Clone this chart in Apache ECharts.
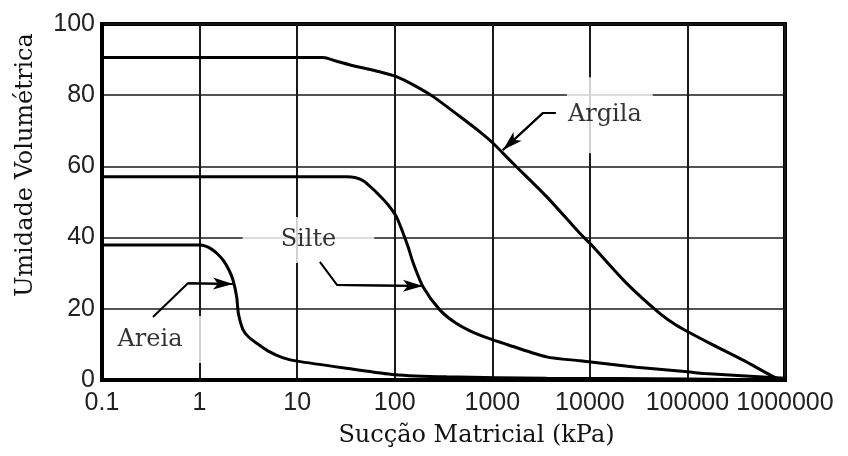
<!DOCTYPE html>
<html><head><meta charset="utf-8">
<script src="https://cdn.jsdelivr.net/npm/echarts@6/dist/echarts.min.js"></script>
<style>html,body{margin:0;padding:0;background:#fff}#c{width:848px;height:456px}</style>
</head><body><div id="c"></div>
<script>
// ---- data (x = sucção matricial kPa, y = umidade volumétrica %) ----
const xTickLabels = ['0.1','1','10','100','1000','10000','100000','1000000'];
const yTicks = [0,20,40,60,80,100];

const argila = [[0.1,90.6],[1,90.6],[10,90.6],[18.5,90.6],[25,89.6],[35,88.5],[70,86.6],[104,85.2],[155,82.9],[248,79.6],[466,74],[746,69.7],[1020,66.5],[1636,60.8],[3600,51.5],[7900,41.2],[10400,37.9],[23700,27.2],[52000,18.7],[77000,15.4],[170000,10.3],[372000,5.6],[818000,0.5],[1000000,0]];
const silte = [[0.1,57.1],[1,57.1],[10,57.1],[32,57.1],[40,56.8],[48,55.9],[58,54],[70,51.8],[85,49.3],[104,45.9],[122,41.2],[137,37.4],[155,32.8],[195,26.2],[290,19.7],[430,15.9],[746,12.6],[1636,9.4],[3600,6.5],[7900,5.4],[30000,3.6],[100000,2.3],[150000,1.8],[1000000,0.5]];
const areia = [[0.1,37.9],[1,37.9],[1.15,37.6],[1.3,36.9],[1.5,35.6],[1.75,33.6],[2.0,30.9],[2.2,28.1],[2.4,23.4],[2.5,18.7],[2.8,14],[3.2,12],[4,10],[5,8.2],[7.2,6.2],[10,5.3],[32,3.3],[100,1.5],[340,0.9],[3600,0.5],[100000,0.3],[1000000,0]];

const labelNames = ['Argila','Silte','Areia'];
const labelX = [16030, 13.06, 0.384];
const labelY = [74.4, 39.3, 11.4];

const arrowArgila = [[4487,75],[3300,75],[1285,64.6]];
const arrowSilte = [[17.1,33.2],[25.6,26.7],[194.5,26.4]];
const arrowAreia = [[0.333,17.7],[0.76,27.2],[2.2,27.0]];

// ---- chart ----
const labelPads = [[21,11,31,1],[12,38,10,38],[17,23,6,5]];
const serif = 'DejaVu Serif';

function curve(name, data){
  return {name, type:'line', data, smooth:0.25, symbol:'none', z:4,
    lineStyle:{color:'#000', width:3}, silent:true};
}
function arrow(pts){
  const last = pts.length-1;
  return {type:'line', data:pts, symbol:'none', z:4, silent:true,
    lineStyle:{color:'#000', width:2},
    markLine:{silent:true, symbol:['none','arrow'], symbolSize:[12,12],
      lineStyle:{color:'#000', width:2, type:'solid'}, label:{show:false},
      data:[[{coord:pts[last-1], symbol:'none'},{coord:pts[last], symbol:'arrow', symbolSize:[9,20]}]]}};
}

const chart = echarts.init(document.getElementById('c'));
chart.setOption({
  animation:false,
  backgroundColor:'#fff',
  grid:{left:102, right:63, top:24, bottom:76, show:true, borderColor:'#000', borderWidth:4},
  xAxis:{type:'log', logBase:10, min:0.1, max:1000000,
    axisLine:{show:true, lineStyle:{color:'#000', width:4}},
    axisTick:{show:false},
    splitLine:{show:true, lineStyle:{color:'#1a1a1a', width:2}},
    axisLabel:{formatter:v=>xTickLabels[Math.round(Math.log10(v))+1], fontFamily:'Liberation Sans', fontSize:25, color:'#222', margin:11},
    name:'Sucção Matricial (kPa)', nameLocation:'middle', nameGap:44,
    nameTextStyle:{fontFamily:serif, fontSize:24, color:'#111', padding:[0,0,0,66]}},
  yAxis:{type:'value', min:yTicks[0], max:yTicks[yTicks.length-1], interval:20,
    axisLine:{show:true, lineStyle:{color:'#000', width:4}},
    axisTick:{show:false},
    splitLine:{show:true, lineStyle:{color:'#1a1a1a', width:1.5}},
    axisLabel:{fontFamily:'Liberation Sans', fontSize:25, color:'#222', margin:7},
    name:'Umidade Volumétrica', nameLocation:'middle', nameGap:64,
    nameTextStyle:{fontFamily:serif, fontSize:24, color:'#111', padding:[0,0,0,74]}},
  series:[
    {type:'scatter', z:3, silent:true, symbolSize:0,
      data:labelNames.map((n,i)=>({name:n, value:[labelX[i],labelY[i]],
        label:{padding:labelPads[i]}})),
      label:{show:true, position:'inside', formatter:p=>p.name, fontFamily:serif, fontSize:24,
        color:'#000', backgroundColor:'#fff'}},
    curve('Argila', argila),
    curve('Silte', silte),
    curve('Areia', areia),
    arrow(arrowArgila), arrow(arrowSilte), arrow(arrowAreia)
  ]
});
</script></body></html>
